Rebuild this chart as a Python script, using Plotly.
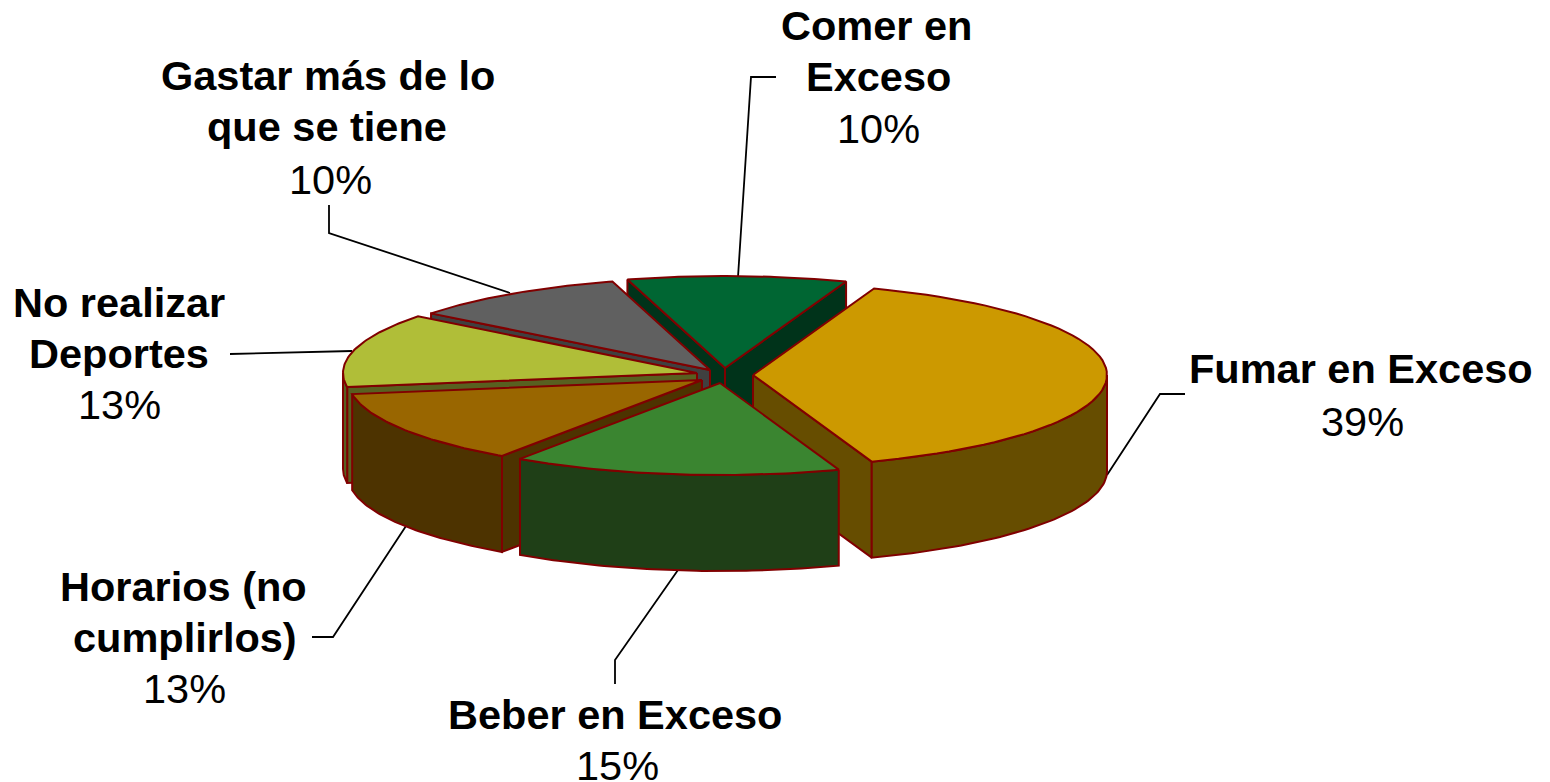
import math
import plotly.graph_objects as go

# ---- data (clockwise from the first slice) ----
categories = ["Fumar en Exceso", "Beber en Exceso", "Horarios (no cumplirlos)",
              "No realizar Deportes", "Gastar más de lo que se tiene", "Comer en Exceso"]
values = [39, 15, 13, 13, 10, 10]
label_lines = [["Fumar en Exceso"], ["Beber en Exceso"], ["Horarios (no", "cumplirlos)"],
               ["No realizar", "Deportes"], ["Gastar más de lo", "que se tiene"], ["Comer en", "Exceso"]]
top_colors = ["#CC9900", "#3A8530", "#996600", "#B0BE38", "#606060", "#006633"]
side_colors = ["#664D00", "#1F3F17", "#4D3300", "#586020", "#404040", "#00331A"]

# ---- geometry / styling of the projected pie ----
START_DEG = 20.0
RX, RY, DEPTH = 354.0, 92.0, 96.0
apex = [(753, 375), (720, 383), (702, 380), (697, 373), (710, 370), (725, 368)]
draw_order = [5, 4, 3, 2, 0, 1]
label_pos = [[(1361, 368), (1362, 421)], [(615, 714), (617, 765)],
             [(183, 586), (185, 637), (184, 688)], [(119, 302), (119, 353), (119, 404)],
             [(328, 75), (327, 126), (330, 179)], [(876, 25), (878, 76), (878, 128)]]
leaders = [[(1107, 475), (1160, 394), (1185, 394)], [(678, 570), (615, 660), (615, 684)],
           [(406, 526), (333, 637), (312, 637)], [(352, 351), (230, 354)],
           [(510, 293), (329, 233), (329, 205)], [(738, 277), (751, 77), (776, 77)]]
OUTLINE = "#800000"
FONT = "Liberation Sans, Arial, sans-serif"
FS = 41.5

fig = go.Figure()


def poly(xs, ys, fill):
    fig.add_trace(go.Scatter(x=xs + xs[:1], y=ys + ys[:1], mode="lines", fill="toself",
                             fillcolor=fill, line=dict(color=OUTLINE, width=2),
                             hoverinfo="skip", showlegend=False))


def rim(c, a):
    r = math.radians(a)
    return c[0] + RX * math.sin(r), c[1] - RY * math.cos(r)


def arc(c, a1, a2, n=60):
    return [rim(c, a1 + (a2 - a1) * i / n) for i in range(n + 1)]


# slice angular extents come from the values
total = sum(values)
spans, acc = [], START_DEG
for v in values:
    spans.append((acc, acc + 360.0 * v / total))
    acc += 360.0 * v / total

for seg in leaders:
    fig.add_trace(go.Scatter(x=[p[0] for p in seg], y=[p[1] for p in seg], mode="lines",
                             line=dict(color="black", width=1.8), hoverinfo="skip", showlegend=False))

for i in draw_order:
    c = apex[i]
    a1, a2 = spans[i]
    # visible cut faces
    for a, vis in ((a1, math.sin(math.radians(a1)) < 0), (a2, math.sin(math.radians(a2)) > 0)):
        if vis:
            p = rim(c, a)
            poly([c[0], p[0], p[0], c[0]], [c[1], p[1], p[1] + DEPTH, c[1] + DEPTH], side_colors[i])
    # visible outer wall (front half of the ellipse)
    lo, hi = max(a1, 90), min(a2, 270)
    if hi > lo:
        pts = arc(c, lo, hi)
        poly([p[0] for p in pts] + [p[0] for p in reversed(pts)],
             [p[1] for p in pts] + [p[1] + DEPTH for p in reversed(pts)], side_colors[i])
    # top face
    pts = arc(c, a1, a2)
    poly([c[0]] + [p[0] for p in pts], [c[1]] + [p[1] for p in pts], top_colors[i])

annotations = []
for i, lines in enumerate(label_lines):
    texts = [(t, True) for t in lines] + [(f"{values[i]}%", False)]
    for (t, bold), (x, y) in zip(texts, label_pos[i]):
        annotations.append(dict(x=x, y=y, xref="x", yref="y", text=f"<b>{t}</b>" if bold else t,
                                showarrow=False, xanchor="center", yanchor="middle",
                                font=dict(family=FONT, size=FS, color="black")))

fig.update_layout(
    width=1550, height=782,
    paper_bgcolor="white", plot_bgcolor="white", margin=dict(l=0, r=0, t=0, b=0),
    xaxis=dict(range=[0, 1550], visible=False, fixedrange=True),
    yaxis=dict(range=[782, 0], visible=False, fixedrange=True),
    annotations=annotations, showlegend=False,
)
fig.write_html("out.html", config=dict(displayModeBar=False),
               post_script="document.body.style.margin='0';document.documentElement.style.overflow='hidden';")
